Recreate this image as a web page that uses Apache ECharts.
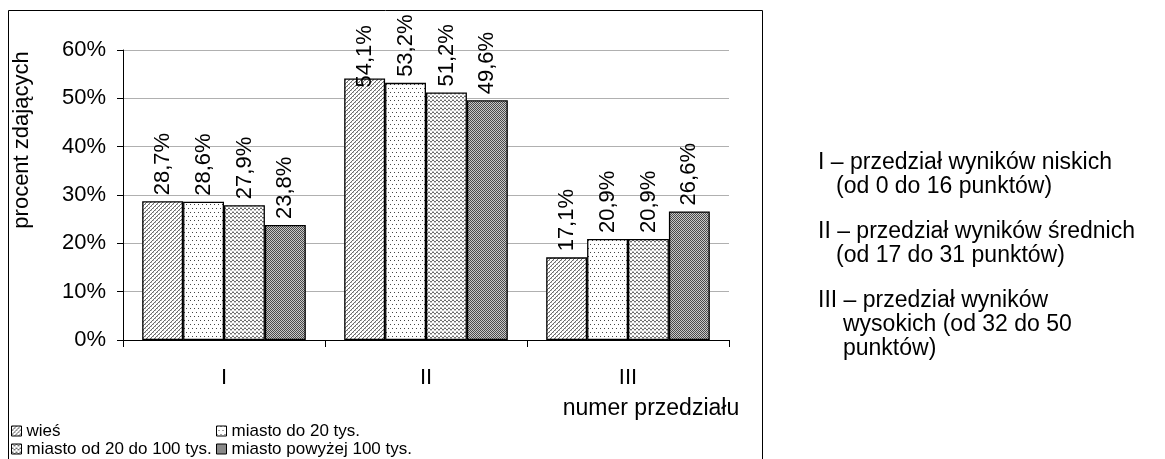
<!DOCTYPE html>
<html><head><meta charset="utf-8">
<script src="https://cdn.jsdelivr.net/npm/echarts@6/dist/echarts.min.js"></script>
<style>html,body{margin:0;padding:0;background:#fff}#c{width:1165px;height:459px}</style>
</head><body><div id="c"></div>
<script>
const categories = ['I', 'II', 'III'];
const seriesNames = ['wieś', 'miasto do 20 tys.', 'miasto od 20 do 100 tys.', 'miasto powyżej 100 tys.'];
const wies = [28.7, 54.1, 17.1];
const miastoDo20 = [28.6, 53.2, 20.9];
const miasto20do100 = [27.9, 51.2, 20.9];
const miastoPowyzej100 = [23.8, 49.6, 26.6];
const yTicks = [0, 10, 20, 30, 40, 50, 60];
const yAxisTitle = 'procent zdających';
const xAxisTitle = 'numer przedziału';
const notes = [
  ['I – przedział wyników niskich', '(od 0 do 16 punktów)'],
  ['II – przedział wyników średnich', '(od 17 do 31 punktów)'],
  ['III – przedział wyników', 'wysokich (od 32 do 50', 'punktów)']
];

const FONT = '"Liberation Sans", Arial, sans-serif';
const FS = 22;
const LEG_FS = 17;

function makePattern(type) {
  const c = document.createElement('canvas');
  const s = 8; c.width = s; c.height = s;
  const g = c.getContext('2d');
  g.fillStyle = '#fff'; g.fillRect(0, 0, s, s);
  if (type === 0) {
    for (let y = 0; y < s; y++) for (let x = 0; x < s; x++) {
      const k = (x + y) % 4;
      if (k === 0) { g.fillStyle = '#6a6a6a'; g.fillRect(x, y, 1, 1); }
      else if (k === 1 && y % 2 === 0) { g.fillStyle = '#b8b8b8'; g.fillRect(x, y, 1, 1); }
    }
  } else if (type === 1) {
    g.fillStyle = '#444';
    g.fillRect(0, 0, 1, 1); g.fillRect(4, 0, 1, 1);
    g.fillRect(2, 4, 1, 1); g.fillRect(6, 4, 1, 1);
  } else if (type === 2) {
    for (let y = 0; y < s; y += 4) {
      for (let x = 0; x < s; x++) {
        const dy = (x % 4 < 2) ? 0 : 1;
        g.fillStyle = '#6e6e6e'; g.fillRect(x, y + dy, 1, 1);
        g.fillStyle = '#c4c4c4'; g.fillRect(x, y + 2 + (1 - dy), 1, 1);
      }
    }
  } else {
    g.fillStyle = '#c8c8c8'; g.fillRect(0, 0, s, s);
    g.fillStyle = '#4a4a4a';
    for (let y = 0; y < s; y++) for (let x = 0; x < s; x++) if ((x + y) % 2 === 0) g.fillRect(x, y, 1, 1);
  }
  return { image: c, repeat: 'repeat' };
}

const dataSets = [wies, miastoDo20, miasto20do100, miastoPowyzej100];

const series = dataSets.map((d, i) => ({
  name: seriesNames[i],
  type: 'bar',
  // labels that would run past the chart's top edge are pushed down, as in the source
  data: d.map(v => (v > 54 ? { value: v, label: { offset: [-15, 0] } } : v)),
  barGap: '0%',
  barCategoryGap: '19%',
  itemStyle: { color: makePattern(i), borderColor: '#000', borderWidth: 1.3 },
  label: {
    show: true, position: 'top', rotate: 90, align: 'left', verticalAlign: 'middle',
    distance: 6, color: '#000', fontSize: FS, fontFamily: FONT,
    formatter: p => String(p.value).replace('.', ',') + '%'
  }
}));

// measure first legend column width to place the second column right after it
const mc = document.createElement('canvas').getContext('2d');
mc.font = LEG_FS + 'px ' + FONT;
const col1W = Math.max(mc.measureText(seriesNames[0]).width, mc.measureText(seriesNames[2]).width);
const legendLeft = 11;
const legend2Left = Math.round(legendLeft + 10 + 5 + col1W + 5);

const graphics = [
  { type: 'rect', shape: { x: 8.5, y: 10.5, width: 754, height: 460 }, style: { fill: 'none', stroke: '#000', lineWidth: 1 }, silent: true },
  { type: 'text', x: 22, y: 140, rotation: Math.PI / 2, style: { text: yAxisTitle, font: FS + 'px ' + FONT, fill: '#000', align: 'center', verticalAlign: 'middle' } },
  { type: 'text', x: 651, y: 409, style: { text: xAxisTitle, font: '23px ' + FONT, fill: '#000', align: 'center', verticalAlign: 'middle' } }
];
const noteY = [[163, 187], [232, 256], [301, 325, 349]];
const noteX = [[818, 836], [818, 836], [818, 843, 843]];
notes.forEach((grp, gi) => grp.forEach((t, li) => {
  graphics.push({ type: 'text', x: noteX[gi][li], y: noteY[gi][li], style: { text: t, font: '23px ' + FONT, fill: '#000', align: 'left', verticalAlign: 'middle' } });
}));

const legendCommon = {
  orient: 'vertical', top: 422, height: 80, itemGap: 0, itemWidth: 10, itemHeight: 10, icon: 'rect',
  textStyle: { fontSize: LEG_FS, color: '#000', fontFamily: FONT, lineHeight: 18 }, padding: 0, selectedMode: false,
  itemStyle: { borderColor: '#000', borderWidth: 1 }
};

const chart = echarts.init(document.getElementById('c'), null, { renderer: 'canvas' });
chart.setOption({
  animation: false,
  backgroundColor: '#fff',
  textStyle: { fontFamily: FONT },
  grid: { left: 123, right: 436, top: 50, bottom: 119, containLabel: false },
  legend: [
    Object.assign({ data: [seriesNames[0], seriesNames[2]], left: legendLeft }, legendCommon),
    Object.assign({ data: [seriesNames[1], seriesNames[3]], left: legend2Left }, legendCommon)
  ],
  xAxis: {
    type: 'category', data: categories,
    axisLine: { lineStyle: { color: '#000', width: 1 } },
    axisTick: { show: true, alignWithLabel: false, length: 7, lineStyle: { color: '#000' } },
    axisLabel: { color: '#000', fontSize: FS, margin: 27, fontFamily: FONT }
  },
  yAxis: {
    type: 'value', min: yTicks[0], max: yTicks[yTicks.length - 1], interval: 10,
    axisLine: { show: true, lineStyle: { color: '#000', width: 1 } },
    axisTick: { show: true, length: 6, lineStyle: { color: '#000' } },
    axisLabel: { color: '#000', fontSize: FS, margin: 17, fontFamily: FONT, formatter: '{value}%' },
    splitLine: { show: true, lineStyle: { color: '#b0b0b0', width: 1 } }
  },
  series: series,
  graphic: graphics
});
</script></body></html>
